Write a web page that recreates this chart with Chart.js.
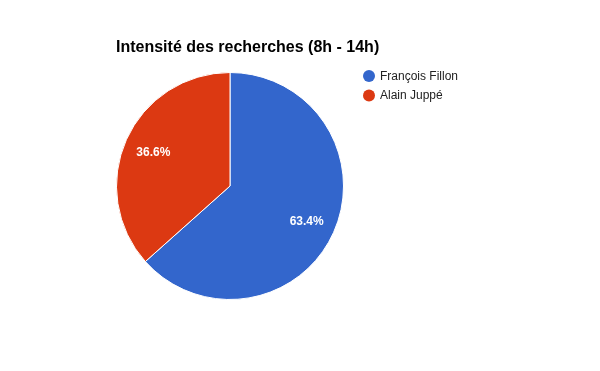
<!DOCTYPE html>
<html lang="fr">
<head>
    <meta charset="UTF-8">
    <title>Intensité des recherches</title>
    <script src="https://cdn.jsdelivr.net/npm/chart.js"></script>
    <style>
        html, body { margin: 0; padding: 0; background: #fff; }
        #wrap { width: 600px; height: 371px; position: relative; }
    </style>
</head>
<body>
    <div id="wrap"><canvas id="chartPie"></canvas></div>

    <script>
        // Données
        const titre = 'Intensité des recherches (8h - 14h)';
        const candidats = ['François Fillon', 'Alain Juppé'];
        const parts = [63.4, 36.6];
        const couleurs = ['#3366cc', '#dc3912'];

        // Titre, légende et pourcentages dessinés à la main
        const decorPlugin = {
            id: 'decor',
            afterDraw(chart) {
                const ctx = chart.ctx;
                ctx.save();

                ctx.fillStyle = '#000';
                ctx.font = 'bold 16px "Liberation Sans", Arial, sans-serif';
                ctx.textAlign = 'left';
                ctx.textBaseline = 'alphabetic';
                ctx.fillText(titre, 116, 52);

                chart.data.labels.forEach((lbl, i) => {
                    const y = 76 + i * 19.5;
                    ctx.beginPath();
                    ctx.arc(369, y, 6, 0, Math.PI * 2);
                    ctx.fillStyle = couleurs[i];
                    ctx.fill();
                    ctx.fillStyle = '#222';
                    ctx.font = '12px "Liberation Sans", Arial, sans-serif';
                    ctx.textBaseline = 'middle';
                    ctx.fillText(lbl, 380, y + 0.5);
                });

                const meta = chart.getDatasetMeta(0);
                const total = parts.reduce((a, b) => a + b, 0);
                ctx.fillStyle = '#fff';
                ctx.font = 'bold 12px "Liberation Sans", Arial, sans-serif';
                ctx.textAlign = 'center';
                ctx.textBaseline = 'middle';
                meta.data.forEach((arc, i) => {
                    const p = arc.getProps(['x', 'y', 'startAngle', 'endAngle', 'outerRadius']);
                    const mid = (p.startAngle + p.endAngle) / 2;
                    const r = p.outerRadius * 0.74;
                    const pct = (parts[i] / total * 100).toFixed(1) + '%';
                    ctx.fillText(pct, p.x + Math.cos(mid) * r, p.y + Math.sin(mid) * r + 1);
                });

                ctx.restore();
            }
        };

        new Chart(document.getElementById('chartPie').getContext('2d'), {
            type: 'pie',
            data: {
                labels: candidats,
                datasets: [{
                    data: parts,
                    backgroundColor: couleurs,
                    borderColor: '#fff',
                    borderWidth: 1
                }]
            },
            options: {
                responsive: true,
                maintainAspectRatio: false,
                animation: false,
                layout: { padding: { left: 116, top: 72, right: 256, bottom: 71 } },
                plugins: {
                    legend: { display: false },
                    title: { display: false },
                    tooltip: { enabled: false }
                }
            },
            plugins: [decorPlugin]
        });
    </script>
</body>
</html>
